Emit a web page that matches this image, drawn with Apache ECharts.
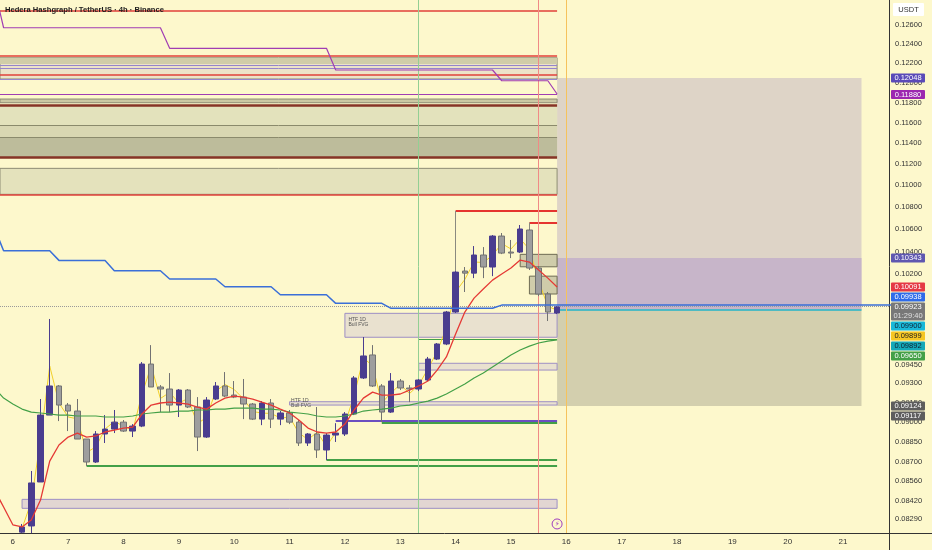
<!DOCTYPE html>
<html><head><meta charset="utf-8">
<script src="https://cdn.jsdelivr.net/npm/echarts@6.0.0/dist/echarts.min.js"></script>
<style>html,body{margin:0;padding:0;background:#fdf8cc;}#c{width:932px;height:550px;}</style>
</head><body><div id="c"></div>
<script>
// ---------- data ----------
const titleText = 'Hedera Hashgraph / TetherUS · 4h · Binance';
const dayLabels = ['6','7','8','9','10','11','12','13','14','15','16','17','18','19','20','21'];
const barsPerDay = 6;            // 4h bars, bar index 0 = day 6 00:00
const firstBar = 1;
const opens = [0.08199,0.08242,0.08555,0.09054,0.09280,0.09131,0.09085,0.08872,0.08701,0.08910,
0.08947,0.09000,0.08932,0.08970,0.09454,0.09272,0.09256,0.09131,0.09248,0.09116,
0.08887,0.09178,0.09280,0.09209,0.09193,0.09139,0.09023,0.09147,0.09023,0.09070,
0.09000,0.08842,0.08910,0.08790,0.08902,0.08910,0.09062,0.09343,0.09527,0.09280,
0.09077,0.09319,0.09264,0.09256,0.09327,0.09494,0.09616,0.09880,0.10229,0.10211,
0.10369,0.10264,0.10537,0.10395,0.10395,0.10591,0.10255,0.10032,0.09872];
const closes = [0.08235,0.08548,0.09054,0.09280,0.09131,0.09085,0.08872,0.08701,0.08910,0.08947,
0.09000,0.08932,0.08970,0.09454,0.09272,0.09256,0.09131,0.09248,0.09116,0.08887,
0.09170,0.09280,0.09201,0.09193,0.09139,0.09023,0.09147,0.09023,0.09070,0.09000,
0.08842,0.08910,0.08790,0.08902,0.08917,0.09062,0.09343,0.09519,0.09280,0.09077,
0.09319,0.09264,0.09256,0.09327,0.09494,0.09616,0.09880,0.10220,0.10211,0.10369,
0.10264,0.10537,0.10386,0.10386,0.10600,0.10255,0.10032,0.09880,0.09923];
const lows = [0.08192,0.08192,0.08555,0.09054,0.09008,0.08932,0.08872,0.08672,0.08694,0.08842,
0.08917,0.08925,0.08887,0.08962,0.09272,0.09077,0.09077,0.09039,0.09108,0.08782,
0.08880,0.09170,0.09193,0.09185,0.09023,0.09016,0.08977,0.08955,0.08977,0.08985,
0.08820,0.08820,0.08731,0.08716,0.08850,0.08895,0.09054,0.09335,0.09272,0.09000,
0.09070,0.09248,0.09154,0.09240,0.09319,0.09486,0.09607,0.09872,0.10049,0.10168,
0.10168,0.10185,0.10377,0.10342,0.10386,0.10238,0.10014,0.09805,0.09863];
const highs = [0.08256,0.08635,0.09178,0.09822,0.09287,0.09147,0.09178,0.08872,0.08932,0.09054,
0.09093,0.09016,0.08985,0.09470,0.09607,0.09287,0.09382,0.09256,0.09256,0.09193,
0.09193,0.09311,0.09390,0.09319,0.09335,0.09147,0.09162,0.09178,0.09085,0.09093,
0.09016,0.08917,0.09116,0.08917,0.08992,0.09077,0.09358,0.09673,0.09607,0.09295,
0.09382,0.09335,0.09287,0.09335,0.09511,0.09624,0.09889,0.10229,0.10264,0.10448,
0.10439,0.10546,0.10564,0.10502,0.10636,0.10600,0.10273,0.10049,0.09930];

const indicatorStart = -2;
const emaValues = [0.08500,0.08375,0.08250,0.08235,0.08284,0.08425,0.08708,0.08827,0.08887,0.08917,0.08887,0.08895,0.08925,0.08940,0.08955,0.08962,0.09062,0.09131,0.09147,0.09154,0.09147,0.09139,0.09116,0.09100,0.09147,0.09185,0.09201,0.09193,0.09178,0.09154,0.09131,0.09100,0.09070,0.09016,0.08955,0.08925,0.08917,0.08925,0.08985,0.09093,0.09185,0.09232,0.09209,0.09209,0.09217,0.09248,0.09280,0.09319,0.09406,0.09511,0.09698,0.09880,0.09997,0.10074,0.10151,0.10203,0.10255,0.10325,0.10307,0.10238,0.10168,0.10091];
const smaValues = [0.09264,0.09185,0.09139,0.09100,0.09077,0.09070,0.09062,0.09054,0.09054,0.09047,0.09047,0.09047,0.09039,0.09039,0.09039,0.09047,0.09062,0.09070,0.09077,0.09077,0.09085,0.09085,0.09093,0.09093,0.09100,0.09100,0.09108,0.09108,0.09108,0.09100,0.09100,0.09093,0.09077,0.09070,0.09062,0.09047,0.09039,0.09039,0.09047,0.09062,0.09085,0.09093,0.09100,0.09108,0.09124,0.09131,0.09147,0.09162,0.09185,0.09217,0.09256,0.09295,0.09343,0.09382,0.09430,0.09478,0.09527,0.09567,0.09599,0.09624,0.09640,0.09649];
const blueStepBars = [-2,-1,4,5,10,11,16,17,22,23,28,29,34,35,40,41,52,53,96];
const blueStepValues = [0.1061,0.10406,0.10406,0.10322,0.10322,0.10232,0.10232,0.10160,0.10160,0.10094,0.10094,0.10026,0.10026,0.09953,0.09953,0.09911,0.09911,0.09938,0.09938];
const purpleStepBars = [-2,-1,16,17,34,35,52,53,58,59];
const purpleStepValues = [0.1300,0.12571,0.12571,0.12354,0.12354,0.12129,0.12129,0.12019,0.12019,0.11885];

const priceTicks = [0.126,0.124,0.122,0.120,0.118,0.116,0.114,0.112,0.110,0.108,0.106,0.104,0.102,0.0945,0.093,0.0915,0.090,0.0885,0.087,0.0856,0.0842,0.0829];
const priceMin = 0.08193, priceMax = 0.12870;

// horizontal levels drawn from the left edge to the last bar
const redLevels = [0.12751,0.12277,0.12085,0.10916];
const darkRedLevels = [0.11774,0.11264];
const lilacLevels = [0.12181,0.12150,0.12037];
const magentaLevels = [0.11885];
const zoneEdgeLevels = [0.11570,0.11457];
const zoneTops =    [0.12256,0.12256,0.11834,0.11767,0.11570,0.11457,0.11159];
const zoneBottoms = [0.12037,0.12191,0.11797,0.11570,0.11457,0.11264,0.10916];
// FVG boxes
const fvgStartBars = [36,44,30,1];
const fvgTops =      [0.09869,0.09460,0.09157,0.08430];
const fvgBottoms =   [0.09671,0.09406,0.09131,0.08366];
const fvgTexts =     ['HTF 1D\nBull FVG','', 'HTF 1D\nBull FVG',''];
// right-side levels
const greenLevelPrices = [0.09654,0.08998,0.08716,0.08674];
const greenLevelStarts = [44,40,34,8];
const purpleLinePrices = [0.09010];
const purpleLineStarts = [35];
const highLinePrices = [0.10763,0.10657];
const highLineStarts = [48,56];
const highLineBases = [0.10229,0.10591];
const smallBoxStarts = [55,56];
const smallBoxTops = [0.10375,0.10185];
const smallBoxBottoms = [0.10266,0.10032];
const lastBar = 59;
const greenVBar = 44, redVBar = 57, nowBar = 60;
// position tool
const posStart = 59, posEnd = 92;
const posTarget = 0.12048, posMark = 0.10343, posEntry = 0.09900, posStop = 0.09124;
const currentPrice = 0.09923;
const alertPrice = 0.08256;
// axis price tags
const tagValues = [0.12048,0.11880,0.10343,0.10091,0.09938,0.09923,0.09900,0.09899,0.09892,0.09650,0.09124,0.09117];
const tagBg = ['#5a4ab8','#9c27b0','#5f57b0','#e53945','#2f6bea','#787878','#17b8d8','#f6c623','#13a8b8','#43a047','#5d5d5d','#5d5d5d'];
const tagFg = ['#fff','#fff','#fff','#fff','#fff','#fff','#123','#222','#123','#fff','#fff','#fff'];
const countdownText = '01:29:40';

// ---------- build ----------
const L = Math.log;
const xMin = -1.39, xMax = 94.98;
const candleData = opens.map((o,i)=>[firstBar+i, L(o), L(closes[i]), L(lows[i]), L(highs[i])]);
const hl2Data = highs.map((h,i)=>[firstBar+i, L((h+lows[i])/2)]);
const emaData = emaValues.map((v,i)=>[indicatorStart+i, L(v)]);
const smaData = smaValues.map((v,i)=>[indicatorStart+i, L(v)]);
const blueData = blueStepBars.map((b,i)=>[b, L(blueStepValues[i])]);
const purpleData = purpleStepBars.map((b,i)=>[b, L(purpleStepValues[i])]);

function seg(k1,v1,k2,v2,style){ style.type = style.type||'solid'; return [{coord:[k1,L(v1)], lineStyle:style},{coord:[k2,L(v2)]}]; }
function area(k1,v1,k2,v2,fill,border,label){
  return [{coord:[k1,L(v1)], itemStyle:{color:fill, borderColor:border||fill, borderWidth:border?1:0}, label:label||{show:false}},{coord:[k2,L(v2)]}];
}

const areas = [];
areas.push(area(posStart,posTarget,posEnd,posEntry,'#ded4c7'));
areas.push(area(posStart,posMark,posEnd,posEntry,'#c7b5c9'));
areas.push(area(posStart,posEntry,posEnd,posStop,'#d3cfae'));
const zoneFill = ['#ece3c8','#d0cda8','#cbc8a3','#e3e2bc','#d9d7b2','#bdbc9b','#e4e2bc'];
const zoneBorder = ['#8e8c74',null,'#8e8c74',null,null,null,'#8e8c74'];
zoneTops.forEach((t,i)=>areas.push(area(xMin,t,lastBar,zoneBottoms[i],zoneFill[i],zoneBorder[i])));
fvgStartBars.forEach((s,i)=>{
  const lab = fvgTexts[i] ? {show:true, position: i===0?'insideTopLeft':'insideLeft', distance:i===0?4:2, formatter:fvgTexts[i], fontSize:5, lineHeight:5, color:'#555', fontFamily:'Liberation Sans'} : {show:false};
  areas.push(area(s,fvgTops[i],lastBar,fvgBottoms[i], i===3?'#e2d6d2':'#e9e1cf','#9d8fc4',lab));
});
smallBoxStarts.forEach((s,i)=>areas.push(area(s,smallBoxTops[i],lastBar,smallBoxBottoms[i],'#cfccaa','#6e6c54')));

const lines = [];
zoneEdgeLevels.forEach(v=>lines.push(seg(xMin,v,lastBar,v,{color:'#8b8a6c',width:1})));
lilacLevels.forEach(v=>lines.push(seg(xMin,v,lastBar,v,{color:'#9485cc',width:1})));
magentaLevels.forEach(v=>lines.push(seg(xMin,v,lastBar,v,{color:'#a13db3',width:1.2})));
redLevels.forEach(v=>lines.push(seg(xMin,v,lastBar,v,{color:'#e0403a',width:1.5})));
darkRedLevels.forEach(v=>lines.push(seg(xMin,v,lastBar,v,{color:'#863326',width:2.5})));
greenLevelPrices.forEach((v,i)=>lines.push(seg(greenLevelStarts[i],v,lastBar,v,{color:'#43a047',width:i===0?1:2})));
purpleLinePrices.forEach((v,i)=>lines.push(seg(purpleLineStarts[i],v,lastBar,v,{color:'#6a4fc0',width:2})));
highLinePrices.forEach((v,i)=>{
  lines.push(seg(highLineStarts[i],v,lastBar,v,{color:'#e5352f',width:2}));
  lines.push(seg(highLineStarts[i],v,highLineStarts[i],highLineBases[i],{color:'#8a8a80',width:1}));
});
lines.push(seg(posStart,posEntry,posEnd,posEntry,{color:'#22b5c8',width:1.5}));
lines.push({xAxis:greenVBar, lineStyle:{color:'#93cf93',width:1,type:'solid'}});
lines.push({xAxis:redVBar, lineStyle:{color:'#f08a86',width:1,type:'solid'}});
lines.push({xAxis:nowBar, lineStyle:{color:'#f6c35c',width:1,type:'solid'}});
lines.push({yAxis:L(currentPrice), lineStyle:{color:'#9a9a9a',width:1,type:'dotted'}});

const chart = echarts.init(document.getElementById('c'));
const font = 'Liberation Sans';
chart.setOption({
  animation:false,
  backgroundColor:'#fdf8cc',
  title:{text:titleText,left:5,top:6,padding:0,textStyle:{fontSize:7.6,fontWeight:'bold',color:'#1c1c1c',fontFamily:font}},
  grid:{left:0,right:43,top:0,bottom:17},
  xAxis:{type:'value',min:xMin,max:xMax,
    axisLine:{show:true,onZero:false,lineStyle:{color:'#333',width:1}},axisTick:{show:false},splitLine:{show:false},
    axisLabel:{customValues:dayLabels.map((d,i)=>i*barsPerDay),formatter:v=>dayLabels[Math.round(v/barsPerDay)],
      fontSize:8,color:'#333',margin:5,fontFamily:font}},
  yAxis:{type:'value',position:'right',min:L(priceMin),max:L(priceMax),scale:true,
    axisLine:{show:true,onZero:false,lineStyle:{color:'#333',width:1}},axisTick:{show:false},splitLine:{show:false},
    axisLabel:{customValues:priceTicks.map(L),formatter:v=>Math.exp(v).toFixed(5),
      fontSize:7.5,color:'#333',margin:6,fontFamily:font}},
  series:[
    {type:'line',data:[],z:1,silent:true,
      markArea:{silent:true,z:1,data:areas},
      markLine:{silent:true,z:1.5,symbol:['none','none'],label:{show:false},lineStyle:{type:'solid'},data:lines}},
    {type:'line',data:hl2Data,showSymbol:false,z:2.5,lineStyle:{color:'#f2d02a',width:1},silent:true},
    {type:'candlestick',data:candleData,encode:{x:0,y:[1,2,3,4]},barWidth:6,z:3,
      itemStyle:{color:'#4a3d8f',color0:'#9e9e9e',borderColor:'#4a3d8f',borderColor0:'#727272',borderWidth:1},
      markPoint:{silent:true,data:[{coord:[lastBar,L(alertPrice)],symbol:'circle',symbolSize:10,
        itemStyle:{color:'#fdf8cc',borderColor:'#a03cc0',borderWidth:1},
        label:{show:true,position:'inside',formatter:'⚡',color:'#a03cc0',fontSize:7,fontFamily:'DejaVu Sans'}}]}},
    {type:'line',data:smaData,showSymbol:false,z:4,lineStyle:{color:'#43a047',width:1.2},silent:true},
    {type:'line',data:emaData,showSymbol:false,z:4,lineStyle:{color:'#e53935',width:1.3},silent:true},
    {type:'line',data:blueData,showSymbol:false,z:4,lineStyle:{color:'#3a6fd8',width:1.5},silent:true},
    {type:'line',data:purpleData,showSymbol:false,z:4,lineStyle:{color:'#a13db3',width:1.2},silent:true}
  ]
});

// price tags on the axis, stacked around the current-price tag
const anchorIdx = tagValues.indexOf(currentPrice);
const items = tagValues.map((v,i)=>({i, y:chart.convertToPixel({yAxisIndex:0},L(v))}));
const anchor = items[anchorIdx];
anchor.c = anchor.y; anchor.top = anchor.y-4.5; anchor.bottom = anchor.y+13.5;
let lim = anchor.top-1;
items.filter(t=>t!==anchor && t.y<anchor.y).sort((a,b)=>b.y-a.y).forEach(t=>{
  t.c = Math.min(t.y, lim-4.5); t.top=t.c-4.5; t.bottom=t.c+4.5; lim=t.top-1; });
lim = anchor.bottom+1;
items.filter(t=>t!==anchor && t.y>=anchor.y).sort((a,b)=>a.y-b.y).forEach(t=>{
  t.c = Math.max(t.y, lim+4.5); t.top=t.c-4.5; t.bottom=t.c+4.5; lim=t.bottom+1; });
const g = [];
g.push({type:'line',shape:{x1:889.5,y1:533,x2:889.5,y2:550},style:{stroke:'#333',lineWidth:1},z:100});
g.push({type:'line',shape:{x1:889,y1:533.5,x2:932,y2:533.5},style:{stroke:'#333',lineWidth:1},z:100});
g.push({type:'rect',shape:{x:893,y:3,width:31,height:13,r:1},style:{fill:'#ffffff'},z:100});
g.push({type:'text',style:{text:'USDT',x:908.5,y:9.5,fill:'#333',fontSize:7.5,fontFamily:font,align:'center',verticalAlign:'middle'},z:101});
items.forEach(t=>{
  const h = t.bottom-t.top;
  g.push({type:'rect',shape:{x:891,y:t.top,width:34,height:h,r:1},style:{fill:tagBg[t.i]},z:100});
  g.push({type:'text',style:{text:tagValues[t.i].toFixed(5),x:908,y:t.c,fill:tagFg[t.i],fontSize:7.5,fontFamily:font,align:'center',verticalAlign:'middle'},z:101});
  if(t===anchor) g.push({type:'text',style:{text:countdownText,x:908,y:t.c+9,fill:'#e0e0e0',fontSize:7.5,fontFamily:font,align:'center',verticalAlign:'middle'},z:101});
});
chart.setOption({graphic:{elements:g}});
</script></body></html>
